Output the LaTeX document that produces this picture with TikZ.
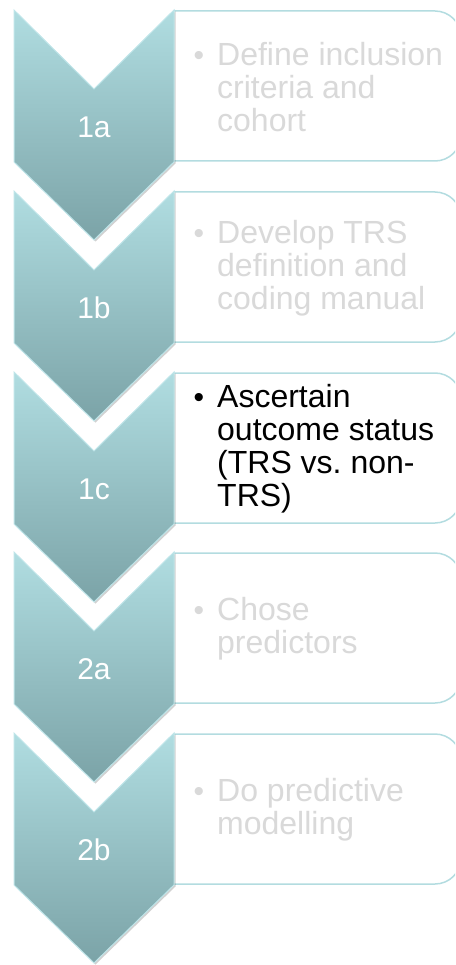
\documentclass[tikz,border=0pt]{standalone}
\usepackage{fontspec}
\setmainfont{Liberation Sans}
\usepackage{xcolor}
\usepackage{tikz}
\usetikzlibrary{shadows}
\definecolor{chevtop}{HTML}{B0DDE1}
\definecolor{chevbot}{HTML}{7BA3A7}
\definecolor{chevedge}{HTML}{BFE5E9}
\definecolor{boxedge}{HTML}{B3DCE0}
\definecolor{fadedtext}{HTML}{D9D9D9}
\newcommand{\stepdot}{\makebox[0pt][r]{\fontsize{30}{30}\selectfont\textbullet\hspace{13pt}}}

\begin{document}
\begin{tikzpicture}[x=1pt, y=-1pt,
  chevron/.style={top color=chevtop, bottom color=chevbot, draw=chevedge, line width=1pt,
    drop shadow={shadow xshift=1.5pt, shadow yshift=-1.5pt, fill=black, opacity=0.18}},
  stepbox/.style={fill=white, draw=boxedge, line width=1.5pt, rounded corners=26pt},
  steplabel/.style={text=white, font=\fontsize{30}{32}\selectfont},
  steptext/.style={anchor=west, align=left, inner sep=0pt, font=\fontsize{32}{33}\selectfont, text=fadedtext}]
  \clip (0,0) rectangle (455,965);
  % Text boxes (right side)
  \filldraw[stepbox] (174,11) -| (461,161) -- (174,161);
  \filldraw[stepbox] (174,192) -| (461,342) -- (174,342);
  \filldraw[stepbox] (174,373) -| (461,523) -- (174,523);
  \filldraw[stepbox] (174,553) -| (461,703) -- (174,703);
  \filldraw[stepbox] (174,734) -| (461,884) -- (174,884);
  % Chevrons
  \path[chevron] (14,10) -- ++(80,79) -- ++(80,-79) -- ++(0,152) -- ++(-80,78) -- ++(-80,-78) -- cycle;
  \path[chevron] (14,191) -- ++(80,79) -- ++(80,-79) -- ++(0,152) -- ++(-80,78) -- ++(-80,-78) -- cycle;
  \path[chevron] (14,372) -- ++(80,79) -- ++(80,-79) -- ++(0,152) -- ++(-80,78) -- ++(-80,-78) -- cycle;
  \path[chevron] (14,552) -- ++(80,79) -- ++(80,-79) -- ++(0,152) -- ++(-80,78) -- ++(-80,-78) -- cycle;
  \path[chevron] (14,733) -- ++(80,79) -- ++(80,-79) -- ++(0,152) -- ++(-80,78) -- ++(-80,-78) -- cycle;
  % Step labels
  \node[steplabel] (lbl1a) at (94,127) {1a};
  \node[steplabel] (lbl1b) at (94,308) {1b};
  \node[steplabel] (lbl1c) at (94,489) {1c};
  \node[steplabel] (lbl2a) at (94,669) {2a};
  \node[steplabel] (lbl2b) at (94,850) {2b};
  % Step texts
  \node[steptext] (txt1a) at (217,87)
    {\stepdot Define inclusion\\criteria and\\cohort};
  \node[steptext] (txt1b) at (217,268)
    {\stepdot Develop TRS\\definition and\\coding manual};
  \node[steptext, text=black] (txt1c) at (217,449)
    {\stepdot Ascertain\\outcome status\\(TRS vs.\ non-\\TRS)};
  \node[steptext] (txt2a) at (217,629)
    {\stepdot Chose\\predictors};
  \node[steptext] (txt2b) at (217,810)
    {\stepdot Do predictive\\modelling};
\end{tikzpicture}
\end{document}
